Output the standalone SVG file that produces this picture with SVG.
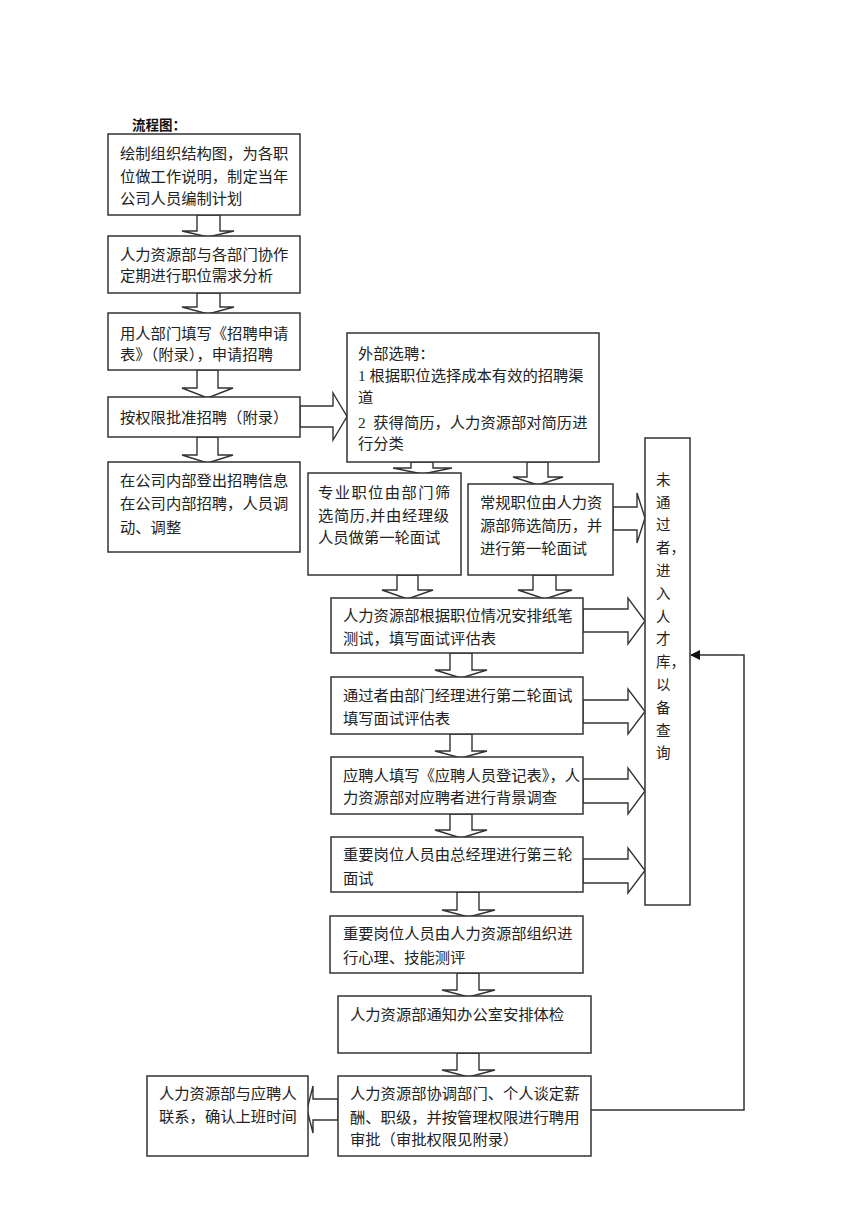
<svg xmlns="http://www.w3.org/2000/svg" width="868" height="1228" viewBox="0 0 868 1228">
<defs>
<style>
.box{fill:#fff;stroke:#333;stroke-width:1.5}
.ba{fill:#fff;stroke:#333;stroke-width:1.4;stroke-linejoin:miter}
.ln{fill:none;stroke:#333;stroke-width:1.5}
.t{font-family:"Liberation Serif","Noto Sans CJK SC",serif;font-size:15.3px;fill:#222}
.v{font-family:"Liberation Serif","Noto Sans CJK SC",serif;font-size:14.5px;fill:#222}
.title{font-family:"Liberation Serif","Noto Sans CJK SC",serif;font-size:13.5px;font-weight:bold;fill:#111}
</style>
<marker id="ah" markerWidth="10" markerHeight="10" refX="9" refY="5" orient="auto" markerUnits="userSpaceOnUse">
<path d="M0,0 L10,5 L0,10 Z" fill="#111"/>
</marker>
</defs>
<rect width="868" height="1228" fill="#fff"/>
<text class="title" x="132" y="130">流程图：</text>

<g id="connectors">
<polygon class="ba" points="197,215 197,231 182,231 208,237 234,231 220,231 220,215"/>
<polygon class="ba" points="197,293 197,307 182,307 208,314 234,307 220,307 220,293"/>
<polygon class="ba" points="197,370 197,388 182,388 207.5,398 233,388 218,388 218,370"/>
<polygon class="ba" points="197,437 197,455 182,455 207.5,463 233,455 218,455 218,437"/>
<polygon class="ba" points="411,462 411,468 393,468 422.5,474 452,468 433,468 433,462"/>
<polygon class="ba" points="527,462 527,477 513,477 538,485 563,477 548,477 548,462"/>
<polygon class="ba" points="397,575 397,590 382,590 407.5,599 433,590 418,590 418,575"/>
<polygon class="ba" points="533,575 533,590 518,590 545,599 572,590 556,590 556,575"/>
<polygon class="ba" points="450,653 450,670 435,670 461,678 487,670 472,670 472,653"/>
<polygon class="ba" points="450,734 450,751 435,751 461,758 487,751 472,751 472,734"/>
<polygon class="ba" points="450,814 450,830 435,830 461,838 487,830 472,830 472,814"/>
<polygon class="ba" points="457,892 457,910 442,910 468.5,917 495,910 479,910 479,892"/>
<polygon class="ba" points="457,973 457,990 442,990 468.5,997 495,990 479,990 479,973"/>
<polygon class="ba" points="457,1053 457,1070 442,1070 468.5,1077 495,1070 479,1070 479,1053"/>
<polygon class="ba" points="300,406 333,406 333,393 347,416.5 333,440 333,427 300,427"/>
<polygon class="ba" points="613,507 637,507 637,493 645,518 637,543 637,530 613,530"/>
<polygon class="ba" points="583,609 628,609 628,598 645,621 628,644 628,632 583,632"/>
<polygon class="ba" points="583,700 628,700 628,689 645,711.5 628,734 628,723 583,723"/>
<polygon class="ba" points="583,779 628,779 628,768 645,791 628,814 628,803 583,803"/>
<polygon class="ba" points="583,859 628,859 628,848 645,870.5 628,893 628,883 583,883"/>
<polygon class="ba" points="338,1099 313,1099 313,1086 307,1109.5 313,1133 313,1120 338,1120"/>
<polyline class="ln" points="591,1110 744,1110 744,655 691,655" marker-end="url(#ah)"/>
</g>

<g id="n1"><rect class="box" x="108" y="134" width="192" height="81"/>
<text class="t" x="120" y="159">绘制组织结构图，为各职</text>
<text class="t" x="120" y="182">位做工作说明，制定当年</text>
<text class="t" x="120" y="204">公司人员编制计划</text></g>

<g id="n2"><rect class="box" x="108" y="236" width="192" height="57"/>
<text class="t" x="120" y="260">人力资源部与各部门协作</text>
<text class="t" x="120" y="281">定期进行职位需求分析</text></g>

<g id="n3"><rect class="box" x="108" y="313" width="192" height="57"/>
<text class="t" x="120" y="339">用人部门填写《招聘申请</text>
<text class="t" x="120" y="360">表》（附录），申请招聘</text></g>

<g id="n4"><rect class="box" x="108" y="397" width="192" height="40"/>
<text class="t" x="120" y="423">按权限批准招聘（附录）</text></g>

<g id="n5"><rect class="box" x="108" y="462" width="192" height="90"/>
<text class="t" x="120" y="486">在公司内部登出招聘信息</text>
<text class="t" x="120" y="509">在公司内部招聘，人员调</text>
<text class="t" x="120" y="533">动、调整</text></g>

<g id="n6"><rect class="box" x="347" y="333" width="252" height="129"/>
<text class="t" x="358" y="359">外部选聘：</text>
<text class="t" x="358" y="381">1 根据职位选择成本有效的招聘渠</text>
<text class="t" x="358" y="403">道</text>
<text class="t" x="358" y="428">2&#160; 获得简历，人力资源部对简历进</text>
<text class="t" x="358" y="449">行分类</text></g>

<g id="n7"><rect class="box" x="308" y="473" width="153" height="102"/>
<text class="t" x="318" y="498" letter-spacing="1.4">专业职位由部门筛</text>
<text class="t" x="318" y="521" letter-spacing="0.6">选简历,并由经理级</text>
<text class="t" x="318" y="543">人员做第一轮面试</text></g>

<g id="n8"><rect class="box" x="468" y="484" width="145" height="91"/>
<text class="t" x="480" y="508">常规职位由人力资</text>
<text class="t" x="480" y="531">源部筛选简历，并</text>
<text class="t" x="480" y="554">进行第一轮面试</text></g>

<g id="n9"><rect class="box" x="645" y="438" width="45" height="467"/>
<text class="v">
<tspan x="656" y="485">未</tspan>
<tspan x="656" y="508">通</tspan>
<tspan x="656" y="530">过</tspan>
<tspan x="656" y="553">者，</tspan>
<tspan x="656" y="576">进</tspan>
<tspan x="656" y="599">入</tspan>
<tspan x="656" y="622">人</tspan>
<tspan x="656" y="644">才</tspan>
<tspan x="656" y="667">库，</tspan>
<tspan x="656" y="690">以</tspan>
<tspan x="656" y="713">备</tspan>
<tspan x="656" y="736">查</tspan>
<tspan x="656" y="758">询</tspan>
</text></g>

<g id="n10"><rect class="box" x="331" y="598" width="252" height="55"/>
<text class="t" x="343" y="621">人力资源部根据职位情况安排纸笔</text>
<text class="t" x="343" y="644">测试，填写面试评估表</text></g>

<g id="n11"><rect class="box" x="331" y="677" width="252" height="57"/>
<text class="t" x="343" y="701">通过者由部门经理进行第二轮面试</text>
<text class="t" x="343" y="724">填写面试评估表</text></g>

<g id="n12"><rect class="box" x="331" y="757" width="252" height="57"/>
<text class="t" x="343" y="781">应聘人填写《应聘人员登记表》，人</text>
<text class="t" x="343" y="803">力资源部对应聘者进行背景调查</text></g>

<g id="n13"><rect class="box" x="331" y="837" width="252" height="55"/>
<text class="t" x="343" y="860">重要岗位人员由总经理进行第三轮</text>
<text class="t" x="343" y="884">面试</text></g>

<g id="n14"><rect class="box" x="330" y="916" width="253" height="57"/>
<text class="t" x="343" y="939">重要岗位人员由人力资源部组织进</text>
<text class="t" x="343" y="963">行心理、技能测评</text></g>

<g id="n15"><rect class="box" x="338" y="996" width="253" height="57"/>
<text class="t" x="350" y="1020">人力资源部通知办公室安排体检</text></g>

<g id="n16"><rect class="box" x="338" y="1076" width="253" height="80"/>
<text class="t" x="350" y="1099">人力资源部协调部门、个人谈定薪</text>
<text class="t" x="350" y="1123">酬、职级，并按管理权限进行聘用</text>
<text class="t" x="350" y="1145">审批（审批权限见附录）</text></g>

<g id="n17"><rect class="box" x="147" y="1076" width="161" height="80"/>
<text class="t" x="159" y="1099">人力资源部与应聘人</text>
<text class="t" x="159" y="1122">联系，确认上班时间</text></g>
</svg>
